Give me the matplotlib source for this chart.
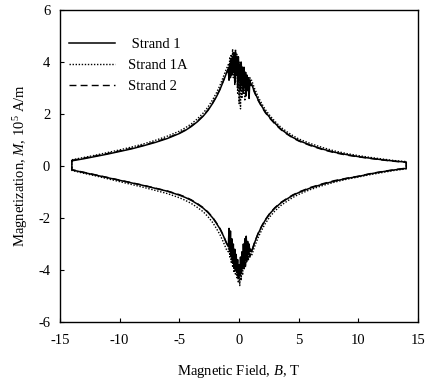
import numpy as np
import matplotlib
matplotlib.use("Agg")
import matplotlib.pyplot as plt

plt.rcParams['font.family'] = 'Liberation Serif'
plt.rcParams['mathtext.fontset'] = 'custom'
plt.rcParams['mathtext.rm'] = 'Liberation Serif'
plt.rcParams['mathtext.it'] = 'Liberation Serif:italic'
plt.rcParams['font.size'] = 10.5
plt.rcParams['axes.unicode_minus'] = False

# field values (T) for the smooth parts and the flux-jump region
b_left = [-14, -13, -12, -11, -10, -9, -8, -7, -6, -5, -4.5, -4, -3.5, -3, -2.6, -2.2, -1.9, -1.6, -1.3, -1.05]
b_noise = [-0.90, -0.84, -0.78, -0.72, -0.66, -0.60, -0.54, -0.48, -0.42, -0.36, -0.30, -0.24, -0.18, -0.12, -0.06, 0.00,
           0.06, 0.12, 0.18, 0.24, 0.30, 0.36, 0.42, 0.48, 0.54, 0.60, 0.66, 0.72, 0.78, 0.84, 0.90, 0.96]
b_right = [1.05, 1.3, 1.6, 1.9, 2.2, 2.6, 3.0, 3.5, 4, 4.5, 5, 6, 7, 8, 9, 10, 11, 12, 13, 14]

# Strand 1 (M in 1e5 A/m)
s1_up_left = [0.20, 0.28, 0.37, 0.46, 0.56, 0.66, 0.78, 0.91, 1.06, 1.25, 1.37, 1.52, 1.70, 1.92, 2.14, 2.42, 2.66, 2.94, 3.28, 3.58]
s1_up_noise = [3.7, 3.3, 3.95, 3.4, 4.1, 3.5, 4.2, 3.6, 4.3, 3.2, 4.4, 3.5, 4.1, 3.0, 4.2, 3.3,
               3.9, 2.9, 4.0, 3.1, 3.7, 2.8, 3.8, 3.0, 3.6, 2.7, 3.5, 2.9, 3.4, 2.6, 3.3, 3.1]
s1_up_right = [3.15, 2.85, 2.55, 2.30, 2.08, 1.85, 1.65, 1.42, 1.25, 1.10, 0.98, 0.80, 0.65, 0.53, 0.44, 0.36, 0.30, 0.24, 0.19, 0.15]
s1_lo_left = [-0.15, -0.25, -0.35, -0.45, -0.55, -0.65, -0.75, -0.86, -0.97, -1.12, -1.21, -1.32, -1.46, -1.62, -1.79, -2.0, -2.2, -2.42, -2.7, -2.98]
s1_lo_noise = [-3.1, -2.4, -3.3, -2.5, -3.5, -2.8, -3.7, -3.0, -3.9, -3.2, -4.0, -3.4, -4.1, -3.6, -4.3, -3.8,
               -4.2, -3.5, -4.1, -3.3, -3.9, -3.0, -3.8, -2.8, -3.6, -2.7, -3.5, -2.9, -3.4, -3.0, -3.3, -3.2]
s1_lo_right = [-3.3, -2.95, -2.6, -2.32, -2.08, -1.82, -1.62, -1.42, -1.27, -1.13, -1.02, -0.84, -0.70, -0.58, -0.48, -0.40, -0.30, -0.22, -0.15, -0.09]

# Strand 1A
s1a_up_left = [0.24, 0.33, 0.42, 0.52, 0.62, 0.73, 0.85, 0.99, 1.15, 1.34, 1.47, 1.62, 1.81, 2.04, 2.27, 2.56, 2.81, 3.10, 3.45, 3.75]
s1a_up_noise = [3.9, 3.5, 4.2, 3.6, 4.3, 3.8, 4.5, 3.4, 4.4, 3.1, 4.5, 3.6, 4.3, 2.8, 4.2, 2.4,
                4.0, 2.2, 3.9, 2.6, 3.8, 2.9, 3.7, 2.5, 3.6, 2.8, 3.5, 3.0, 3.4, 2.9, 3.4, 3.3]
s1a_up_right = [3.30, 2.98, 2.66, 2.40, 2.17, 1.93, 1.72, 1.49, 1.32, 1.17, 1.04, 0.86, 0.71, 0.58, 0.48, 0.40, 0.33, 0.27, 0.21, 0.17]
s1a_lo_left = [-0.17, -0.28, -0.38, -0.49, -0.60, -0.71, -0.82, -0.94, -1.06, -1.22, -1.32, -1.44, -1.59, -1.76, -1.95, -2.18, -2.40, -2.64, -2.94, -3.22]
s1a_lo_noise = [-3.3, -2.7, -3.5, -2.9, -3.7, -3.0, -3.9, -3.3, -4.1, -3.5, -4.2, -3.7, -4.3, -3.9, -4.5, -4.0,
                -4.6, -3.8, -4.4, -3.6, -4.2, -3.4, -4.0, -3.2, -3.9, -3.1, -3.7, -3.2, -3.6, -3.3, -3.5, -3.4]
s1a_lo_right = [-3.45, -3.10, -2.75, -2.46, -2.21, -1.94, -1.73, -1.52, -1.36, -1.21, -1.09, -0.90, -0.75, -0.62, -0.51, -0.42, -0.33, -0.25, -0.17, -0.11]

# Strand 2
s2_up_left = [0.22, 0.30, 0.39, 0.48, 0.58, 0.68, 0.80, 0.93, 1.08, 1.27, 1.39, 1.54, 1.72, 1.94, 2.16, 2.44, 2.68, 2.96, 3.30, 3.60]
s2_up_noise = [3.75, 3.6, 3.9, 3.7, 4.0, 3.8, 4.1, 3.9, 4.2, 3.9, 4.2, 4.0, 4.2, 3.9, 4.1, 3.8,
               4.0, 3.7, 3.9, 3.6, 3.8, 3.5, 3.7, 3.4, 3.6, 3.3, 3.5, 3.3, 3.4, 3.2, 3.3, 3.2]
s2_up_right = [3.12, 2.82, 2.52, 2.27, 2.05, 1.82, 1.62, 1.40, 1.23, 1.08, 0.96, 0.78, 0.63, 0.51, 0.42, 0.35, 0.29, 0.23, 0.18, 0.14]
s2_lo_left = [-0.14, -0.24, -0.34, -0.44, -0.54, -0.64, -0.74, -0.85, -0.96, -1.10, -1.19, -1.30, -1.44, -1.60, -1.77, -1.98, -2.18, -2.40, -2.68, -2.96]
s2_lo_noise = [-3.1, -3.0, -3.3, -3.2, -3.5, -3.4, -3.7, -3.6, -3.9, -3.8, -4.0, -3.9, -4.1, -4.0, -4.2, -4.1,
               -4.2, -4.0, -4.1, -3.9, -4.0, -3.8, -3.9, -3.7, -3.8, -3.6, -3.7, -3.5, -3.6, -3.4, -3.5, -3.4]
s2_lo_right = [-3.28, -2.93, -2.58, -2.30, -2.06, -1.80, -1.60, -1.40, -1.25, -1.11, -1.00, -0.82, -0.68, -0.56, -0.47, -0.39, -0.29, -0.21, -0.14, -0.08]


def loop(up_l, up_n, up_r, lo_l, lo_n, lo_r):
    # upper branch left->right, lower branch right->left, closed
    b = b_left + b_noise + b_right
    up = up_l + up_n + up_r
    lo = lo_l + lo_n + lo_r
    x = b + b[::-1] + [b[0]]
    y = up + lo[::-1] + [up[0]]
    return x, y


fig = plt.figure(figsize=(4.25, 3.87), dpi=100)
ax = fig.add_axes([0.141, 0.168, 0.843, 0.806])

x, y = loop(s1_up_left, s1_up_noise, s1_up_right, s1_lo_left, s1_lo_noise, s1_lo_right)
ax.plot(x, y, color='black', lw=1.1, ls='-', label=' Strand 1')
x, y = loop(s1a_up_left, s1a_up_noise, s1a_up_right, s1a_lo_left, s1a_lo_noise, s1a_lo_right)
ax.plot(x, y, color='black', lw=1.0, ls=(0, (1, 1.2)), label='Strand 1A')
x, y = loop(s2_up_left, s2_up_noise, s2_up_right, s2_lo_left, s2_lo_noise, s2_lo_right)
ax.plot(x, y, color='black', lw=1.0, ls=(0, (5, 3)), label='Strand 2')

ax.set_xlim(-15, 15)
ax.set_ylim(-6, 6)
ax.set_xticks([-15, -10, -5, 0, 5, 10, 15])
ax.set_yticks([-6, -4, -2, 0, 2, 4, 6])
ax.tick_params(axis='x', direction='in', length=3, width=0.8, top=False, pad=9)
ax.tick_params(axis='y', direction='in', length=3, width=0.8, right=False, pad=7)
for s in ax.spines.values():
    s.set_linewidth(1.0)

ax.set_xlabel('Magnetic Field, $B$, T', labelpad=11)
ax.set_ylabel('Magnetization, $M$, 10$^5$ A/m', labelpad=6)

ax.legend(loc='upper left', frameon=False, handlelength=3.2, handletextpad=0.9,
          labelspacing=0.55, bbox_to_anchor=(0.0, 0.94), borderaxespad=0.2)

fig.savefig('out.png', dpi=100)
